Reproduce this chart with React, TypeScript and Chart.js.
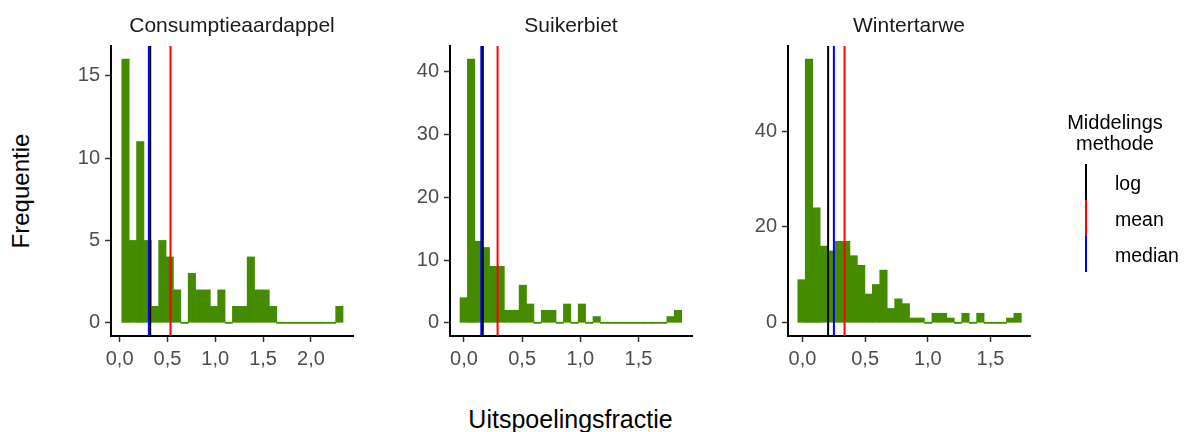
import React, { useEffect, useRef } from 'react';
import { Chart, registerables } from 'chart.js';

Chart.register(...registerables);

// ---- data ----------------------------------------------------------------
const crops = ['Consumptieaardappel', 'Suikerbiet', 'Wintertarwe'];

// histogram counts, 30 equal-width bins per crop
const countsConsumptieaardappel = [16, 5, 11, 5, 1, 5, 4, 2, 0, 3, 2, 2, 1, 2, 0, 1, 1, 4, 2, 2, 1, 0, 0, 0, 0, 0, 0, 0, 0, 1];
const countsSuikerbiet = [4, 42, 13, 12, 9, 9, 2, 2, 6, 3, 0, 2, 2, 0, 3, 0, 3, 0, 1, 0, 0, 0, 0, 0, 0, 0, 0, 0, 1, 2];
const countsWintertarwe = [9, 55, 24, 16, 15, 17, 17, 14, 12, 6, 8, 11, 3, 5, 4, 1, 1, 0, 2, 2, 1, 0, 2, 0, 2, 0, 0, 0, 1, 2];

// outer edges of the binned range per crop
const binLower = [0.023, -0.034, -0.037];
const binUpper = [2.336, 1.871, 1.746];

// averaging methods and their value per crop
const methods = ['log', 'mean', 'median'];
const logValues = [0.32, 0.162, 0.205];
const meanValues = [0.532, 0.289, 0.336];
const medianValues = [0.306, 0.149, 0.251];

// axes
const xTicks = [[0, 0.5, 1, 1.5, 2], [0, 0.5, 1, 1.5], [0, 0.5, 1, 1.5]];
const yTicks = [[0, 5, 10, 15], [0, 10, 20, 30, 40], [0, 20, 40]];
const xLimits = [[-0.09, 2.44], [-0.12, 1.96], [-0.115, 1.815]];
const yLimits = [[-0.8, 16.8], [-2.1, 44.1], [-2.75, 57.75]];

const xTitle = 'Uitspoelingsfractie';
const yTitle = 'Frequentie';
const legendTitle = ['Middelings', 'methode'];

// ---- styling / layout ----------------------------------------------------
const FONT = '"Liberation Sans", Arial, Helvetica, sans-serif';
const BAR_GREEN = '#458B00';
const methodColors = ['#000000', '#FF0000', '#0000FF'];
const TICK_TEXT = '#4D4D4D';
const TICK_MARK = '#333333';

const panelLeft = [111, 450, 788];
const PANEL_W = 242;
const PANEL_TOP = 46;
const PANEL_BOTTOM = 336;
const Y_AXIS_W = 56;
const SIDE_PAD = 56;
const X_AXIS_H = 46;

const countsByCrop = [countsConsumptieaardappel, countsSuikerbiet, countsWintertarwe];

const decimalComma = (v: number) => v.toFixed(1).replace('.', ',');

function Panel({ index }: { index: number }) {
  const ref = useRef<HTMLCanvasElement>(null);

  useEffect(() => {
    const canvas = ref.current;
    if (!canvas) return;
    const counts = countsByCrop[index];
    const lo = binLower[index];
    const hi = binUpper[index];
    const binW = (hi - lo) / counts.length;
    const bars = counts.map((c, i) => ({ x: lo + (i + 0.5) * binW, y: c }));
    const [yMin, yMax] = yLimits[index];
    const [xMin, xMax] = xLimits[index];
    const stats = [logValues[index], meanValues[index], medianValues[index]];

    // one full-height vertical line per averaging method
    const lineSets: any[] = stats.map((v, k) => ({
      type: 'line',
      label: methods[k],
      data: [
        { x: v, y: yMin },
        { x: v, y: yMax },
      ],
      borderColor: methodColors[k],
      backgroundColor: methodColors[k],
      borderWidth: 2,
      pointRadius: 0,
      fill: false,
      order: 3 - k,
    }));

    const tickFont = { family: FONT, size: 20 };

    const chart = new Chart(canvas, {
      type: 'bar',
      data: {
        datasets: [
          {
            type: 'bar',
            label: crops[index],
            data: bars,
            backgroundColor: BAR_GREEN,
            borderWidth: 0,
            barPercentage: 1,
            categoryPercentage: 1,
            minBarLength: 1.2,
            order: 4,
          } as any,
          ...lineSets,
        ],
      },
      options: {
        animation: false,
        responsive: false,
        devicePixelRatio: 1,
        events: [],
        layout: { padding: { left: 0, right: SIDE_PAD, top: 0, bottom: 0 } },
        plugins: {
          legend: { display: false },
          tooltip: { enabled: false },
          title: {
            display: true,
            fullSize: false,
            text: crops[index],
            color: '#1A1A1A',
            font: { family: FONT, size: 21, weight: 'normal' },
            padding: { top: 14, bottom: 6.8 },
          },
        },
        scales: {
          x: {
            type: 'linear',
            min: xMin,
            max: xMax,
            offset: false,
            grid: {
              display: true,
              drawOnChartArea: false,
              drawTicks: true,
              tickLength: 6,
              tickWidth: 1.5,
              tickColor: TICK_MARK,
              offset: false,
            },
            border: { display: true, color: '#000000', width: 2 },
            ticks: {
              padding: 5,
              color: TICK_TEXT,
              font: tickFont,
              autoSkip: false,
              maxRotation: 0,
              callback: (v: any) => decimalComma(Number(v)),
            },
            afterBuildTicks: (s: any) => {
              s.ticks = xTicks[index].map((v) => ({ value: v }));
            },
            afterFit: (s: any) => {
              s.height = X_AXIS_H;
            },
          },
          y: {
            type: 'linear',
            min: yMin,
            max: yMax,
            grid: {
              display: true,
              drawOnChartArea: false,
              drawTicks: true,
              tickLength: 6,
              tickWidth: 1.5,
              tickColor: TICK_MARK,
            },
            border: { display: true, color: '#000000', width: 2 },
            ticks: {
              padding: 5,
              color: TICK_TEXT,
              font: tickFont,
              autoSkip: false,
              callback: (v: any) => String(v),
            },
            afterBuildTicks: (s: any) => {
              s.ticks = yTicks[index].map((v) => ({ value: v }));
            },
            afterFit: (s: any) => {
              s.width = Y_AXIS_W;
            },
          },
        },
      } as any,
    });

    return () => chart.destroy();
  }, [index]);

  const width = Y_AXIS_W + PANEL_W + SIDE_PAD;
  const height = PANEL_BOTTOM + X_AXIS_H;
  return (
    <canvas
      ref={ref}
      width={width}
      height={height}
      style={{ position: 'absolute', left: panelLeft[index] - Y_AXIS_W, top: 0, width, height }}
    />
  );
}

function Legend() {
  const keyTop = 164;
  const keyH = 36;
  return (
    <>
      {legendTitle.map((t, i) => (
        <div
          key={t}
          style={{
            position: 'absolute',
            left: 1115,
            top: 122 + i * 21,
            transform: 'translate(-50%, -50%)',
            fontSize: 20,
            lineHeight: '20px',
            whiteSpace: 'nowrap',
            color: '#000',
          }}
        >
          {t}
        </div>
      ))}
      {methods.map((m, k) => (
        <React.Fragment key={m}>
          <div
            style={{
              position: 'absolute',
              left: 1085,
              top: keyTop + k * keyH,
              width: 2,
              height: keyH,
              background: methodColors[k],
            }}
          />
          <div
            style={{
              position: 'absolute',
              left: 1115,
              top: keyTop + k * keyH + keyH / 2 + 1,
              transform: 'translateY(-50%)',
              fontSize: 19.5,
              lineHeight: '20px',
              whiteSpace: 'nowrap',
              color: '#000',
            }}
          >
            {m}
          </div>
        </React.Fragment>
      ))}
    </>
  );
}

export default function App() {
  return (
    <div
      style={{
        position: 'fixed',
        left: 0,
        top: 0,
        width: 1190,
        height: 432,
        background: '#ffffff',
        overflow: 'hidden',
        fontFamily: FONT,
      }}
    >
      {crops.map((c, i) => (
        <Panel key={c} index={i} />
      ))}
      <div
        style={{
          position: 'absolute',
          left: 21,
          top: (PANEL_TOP + PANEL_BOTTOM) / 2,
          transform: 'translate(-50%, -50%) rotate(-90deg)',
          fontSize: 24,
          lineHeight: '24px',
          whiteSpace: 'nowrap',
          color: '#000',
        }}
      >
        {yTitle}
      </div>
      <div
        style={{
          position: 'absolute',
          left: panelLeft[0] + (panelLeft[2] + PANEL_W - panelLeft[0]) / 2,
          top: 418.7,
          transform: 'translate(-50%, -50%)',
          fontSize: 25,
          lineHeight: '25px',
          whiteSpace: 'nowrap',
          color: '#000',
        }}
      >
        {xTitle}
      </div>
      <Legend />
    </div>
  );
}
